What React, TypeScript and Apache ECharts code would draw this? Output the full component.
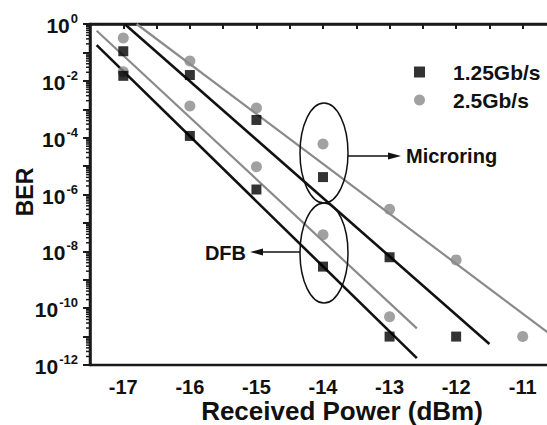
import React, { useEffect, useRef } from "react";
import * as echarts from "echarts";

// Received power (dBm) at which BER was measured
const powerMicroring125 = [-17, -16, -15, -14, -13, -12];
const berMicroring125 = [1.1e-1, 1.6e-2, 4.2e-4, 4.1e-6, 6.2e-9, 1.0e-11];

const powerMicroring25 = [-17, -16, -15, -14, -13, -12, -11];
const berMicroring25 = [3.2e-1, 5.0e-2, 1.1e-3, 6.0e-5, 3.0e-7, 5.0e-9, 1.0e-11];

const powerDFB125 = [-17, -16, -15, -14, -13];
const berDFB125 = [1.5e-2, 1.15e-4, 1.5e-6, 2.9e-9, 1.0e-11];

const powerDFB25 = [-17, -16, -15, -14, -13];
const berDFB25 = [2.1e-2, 1.3e-3, 9.5e-6, 3.8e-8, 5.0e-11];

// Linear fit lines (end points in dBm / BER)
const fitMicroring125X = [-16.98, -11.5];
const fitMicroring125Y = [1, 5.5e-12];
const fitMicroring25X = [-16.8, -10.5];
const fitMicroring25Y = [1, 8.5e-12];
const fitDFB125X = [-17.4, -12.59];
const fitDFB125Y = [1.8e-1, 1.74e-12];
const fitDFB25X = [-17.4, -12.59];
const fitDFB25Y = [5.8e-1, 1.95e-11];

const seriesNames = ["1.25Gb/s", "2.5Gb/s"];
const xTickLabels = [-17, -16, -15, -14, -13, -12, -11];
const yDecades = [-12, -11, -10, -9, -8, -7, -6, -5, -4, -3, -2, -1, 0];

const FONT = '"Liberation Sans", Arial, Helvetica, sans-serif';
const BLACK = "#111111";
const GRAY = "#8a8a8a";

const toPts = (xs: number[], ys: number[]) => xs.map((x, i) => [x, Math.log10(ys[i])]);

export default function App() {
  const ref = useRef<HTMLDivElement>(null);
  useEffect(() => {
    if (!ref.current) return;
    const chart = echarts.init(ref.current, undefined, { renderer: "svg" });

    const minorTicks: number[][] = [];
    yDecades.slice(0, -1).forEach((d) => {
      for (let k = 2; k <= 9; k++) minorTicks.push([-17.5, d + Math.log10(k)]);
    });

    const fitLine = (xs: number[], ys: number[], color: string, width: number) => ({
      type: "line",
      data: toPts(xs, ys),
      symbol: "none",
      silent: true,
      z: 2,
      lineStyle: { color, width },
    });

    chart.setOption({
      animation: false,
      backgroundColor: "#ffffff",
      grid: {
        left: 90,
        top: 24,
        width: 466,
        height: 341,
        show: true,
        borderColor: "#1a1a1a",
        borderWidth: 2.5,
        backgroundColor: "transparent",
      },
      legend: {
        orient: "vertical",
        left: 414,
        top: 61,
        padding: 0,
        itemWidth: 11,
        itemHeight: 11,
        itemGap: 6,
        selectedMode: false,
        data: [
          { name: seriesNames[0], icon: "path://M0,0H10V10H0Z" },
          { name: seriesNames[1], icon: "circle" },
        ],
        textStyle: { fontFamily: FONT, fontWeight: "bold", fontSize: 21, color: BLACK, lineHeight: 22, padding: [0, 0, 0, 23] },
      },
      xAxis: {
        type: "value",
        min: -17.5,
        max: -10.5,
        interval: 0.5,
        axisLine: { show: true, lineStyle: { color: "#1a1a1a", width: 2.5 } },
        axisTick: { show: true, inside: false, length: 5, lineStyle: { color: "#1a1a1a", width: 2 } },
        splitLine: { show: false },
        axisLabel: {
          margin: 12,
          fontFamily: FONT,
          fontWeight: "bold",
          fontSize: 20,
          lineHeight: 20,
          color: BLACK,
          formatter: (v: number) => (xTickLabels.includes(v) ? String(v) : ""),
        },
      },
      yAxis: {
        type: "value",
        min: yDecades[0],
        max: yDecades[yDecades.length - 1],
        interval: 1,
        axisLine: { show: true, lineStyle: { color: "#1a1a1a", width: 2.5 } },
        axisTick: { show: true, inside: false, length: 7, lineStyle: { color: "#1a1a1a", width: 2 } },
        splitLine: { show: false },
        axisLabel: {
          margin: 12,
          formatter: (v: number) => (Math.round(v) % 2 === 0 ? `{b|10}{s|${Math.round(v)}}` : ""),
          rich: {
            b: { fontFamily: FONT, fontWeight: "bold", fontSize: 21, color: BLACK, lineHeight: 24, verticalAlign: "bottom" },
            s: { fontFamily: FONT, fontWeight: "bold", fontSize: 13, color: BLACK, lineHeight: 24, verticalAlign: "top", padding: [0, 0, 0, 1] },
          },
        },
      },
      series: [
        {
          type: "custom",
          silent: true,
          clip: false,
          z: 1,
          data: minorTicks,
          renderItem: (_p: any, api: any) => {
            const pt = api.coord([api.value(0), api.value(1)]);
            return {
              type: "line",
              shape: { x1: pt[0] - 4, y1: pt[1], x2: pt[0], y2: pt[1] },
              style: { stroke: "#1a1a1a", lineWidth: 1.5 },
            };
          },
        },
        fitLine(fitMicroring125X, fitMicroring125Y, BLACK, 2.6),
        fitLine(fitMicroring25X, fitMicroring25Y, GRAY, 2.2),
        fitLine(fitDFB125X, fitDFB125Y, BLACK, 2.6),
        fitLine(fitDFB25X, fitDFB25Y, GRAY, 2.2),
        {
          name: seriesNames[0],
          type: "scatter",
          symbol: "rect",
          symbolSize: 10,
          z: 5,
          itemStyle: { color: "#000000" },
          data: [...toPts(powerMicroring125, berMicroring125), ...toPts(powerDFB125, berDFB125)],
        },
        {
          name: seriesNames[1],
          type: "scatter",
          symbol: "circle",
          symbolSize: 11,
          z: 4,
          itemStyle: { color: GRAY },
          data: [...toPts(powerMicroring25, berMicroring25), ...toPts(powerDFB25, berDFB25)],
        },
      ],
      graphic: [
        { type: "ellipse", shape: { cx: 324, cy: 153, rx: 24, ry: 50 }, style: { fill: "none", stroke: BLACK, lineWidth: 1.5 }, z: 10 },
        { type: "ellipse", shape: { cx: 324, cy: 253, rx: 24, ry: 50 }, style: { fill: "none", stroke: BLACK, lineWidth: 1.5 }, z: 10 },
        { type: "line", shape: { x1: 348, y1: 156, x2: 390, y2: 156 }, style: { stroke: BLACK, lineWidth: 1.5 }, z: 10 },
        { type: "polygon", shape: { points: [[388, 152.5], [401, 156], [388, 159.5]] }, style: { fill: BLACK }, z: 10 },
        { type: "text", x: 406, y: 156, style: { text: "Microring", font: `bold 20px ${FONT}`, fill: BLACK, align: "left", verticalAlign: "middle" }, z: 10 },
        { type: "line", shape: { x1: 300, y1: 252, x2: 260, y2: 252 }, style: { stroke: BLACK, lineWidth: 1.5 }, z: 10 },
        { type: "polygon", shape: { points: [[263, 248.5], [250, 252], [263, 255.5]] }, style: { fill: BLACK }, z: 10 },
        { type: "text", x: 246, y: 253, style: { text: "DFB", font: `bold 20px ${FONT}`, fill: BLACK, align: "right", verticalAlign: "middle" }, z: 10 },
        { type: "text", x: 342, y: 411, style: { text: "Received Power (dBm)", font: `bold 26px ${FONT}`, fill: BLACK, align: "center", verticalAlign: "middle" }, z: 10 },
        { type: "text", x: 25, y: 192, rotation: Math.PI / 2, style: { text: "BER", font: `bold 23px ${FONT}`, fill: BLACK, align: "center", verticalAlign: "middle" }, z: 10 },
      ],
    });
    return () => chart.dispose();
  }, []);
  return (
    <div style={{ position: "fixed", left: 0, top: 0, width: 547, height: 425, overflow: "hidden", background: "#fff" }}>
      <div ref={ref} style={{ width: 570, height: 425 }} />
    </div>
  );
}
